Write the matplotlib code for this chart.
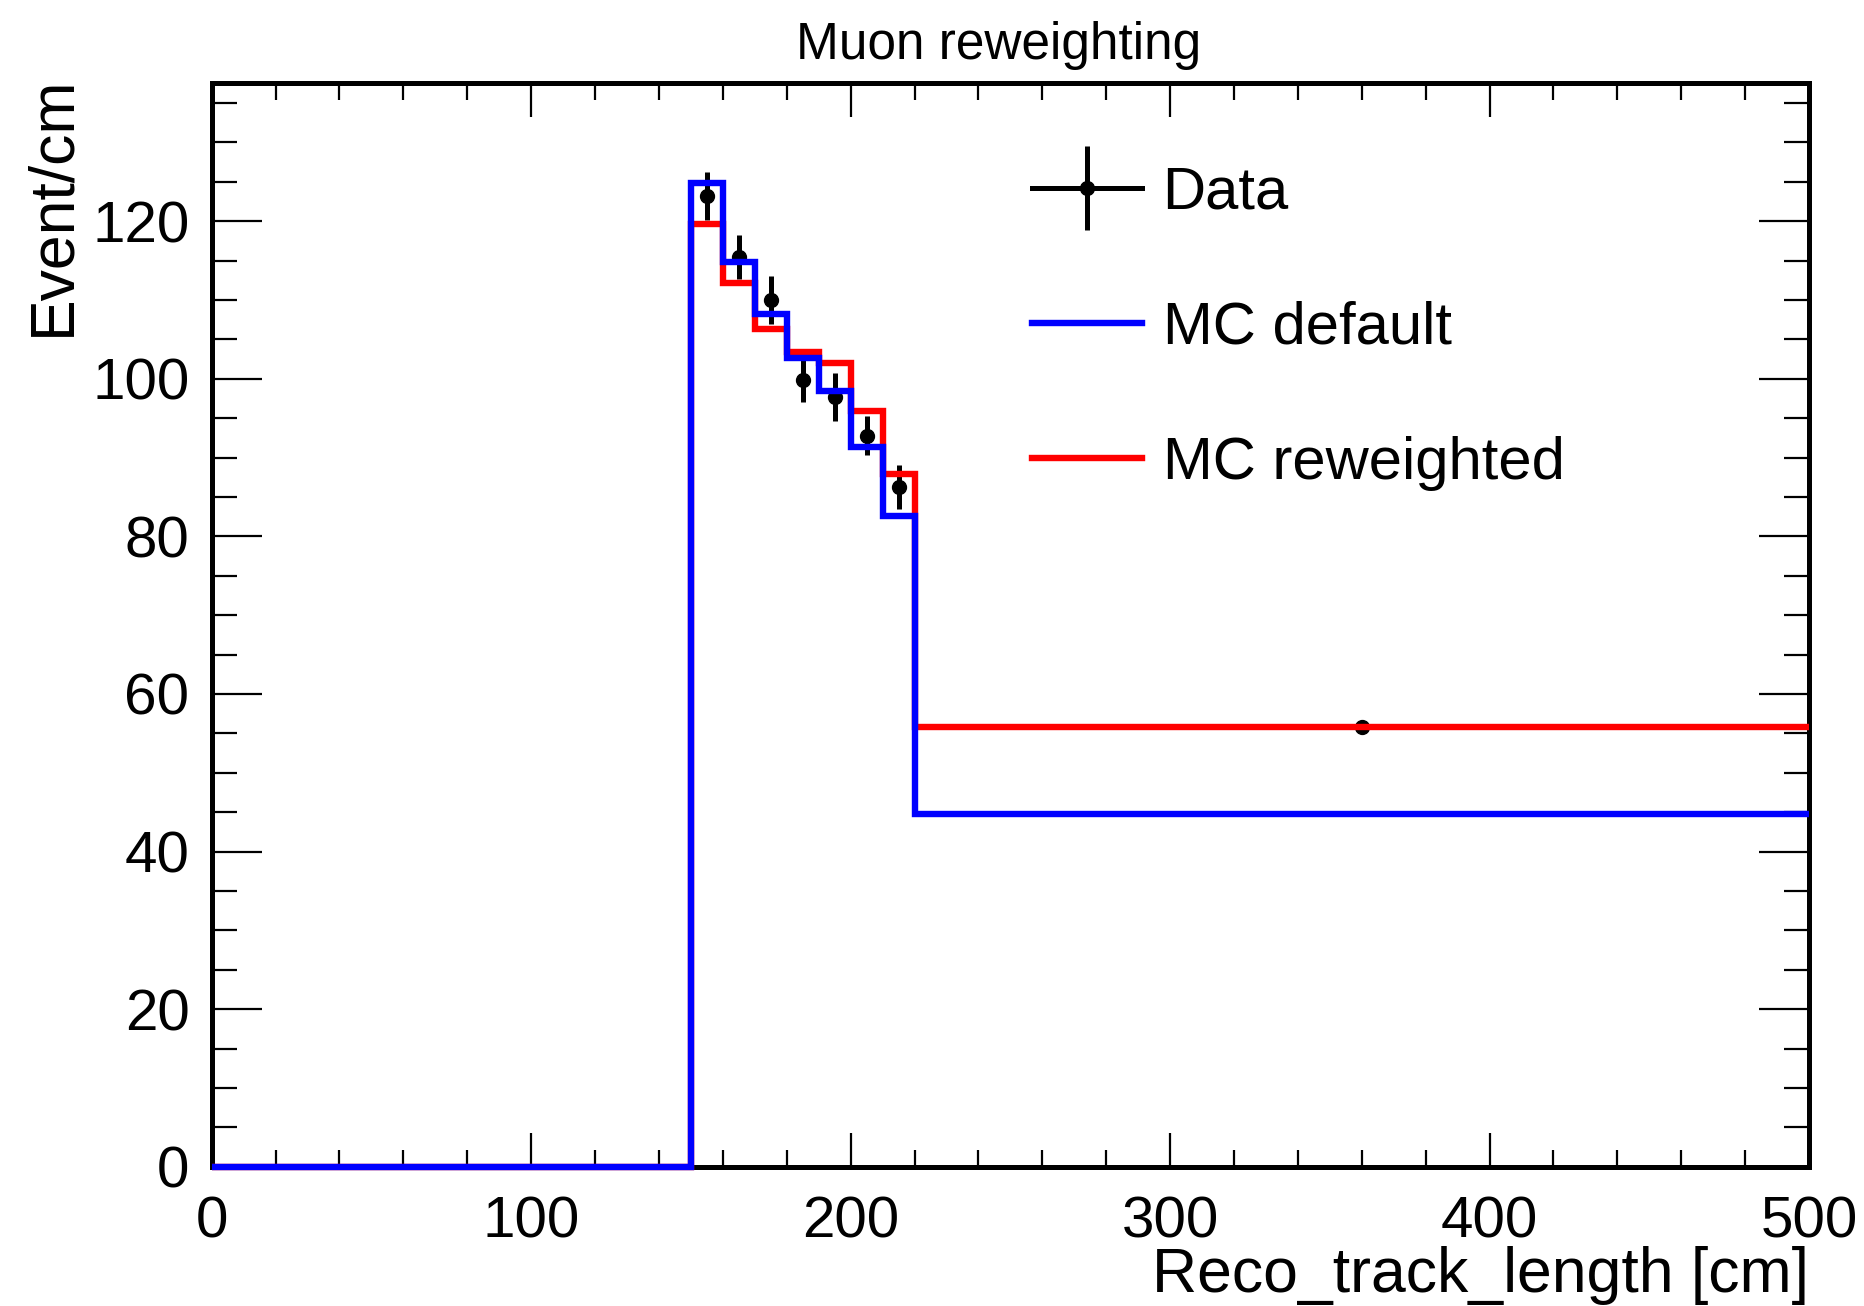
import numpy as np
import matplotlib
matplotlib.use("Agg")
import matplotlib.pyplot as plt
from matplotlib.lines import Line2D
from matplotlib.ticker import MultipleLocator

plt.rcParams['font.family'] = ['Liberation Sans', 'DejaVu Sans']

# bin edges [cm] and contents [Event/cm]
edges = [0, 150, 160, 170, 180, 190, 200, 210, 220, 500]
mc_default = [0, 124.9, 114.8, 108.2, 102.7, 98.5, 91.4, 82.6, 44.8]
mc_reweighted = [0, 119.7, 112.2, 106.3, 103.4, 102.0, 95.9, 87.9, 55.8]

# data points (bin centres), values and errors
data_x = [155, 165, 175, 185, 195, 205, 215, 360]
data_y = [123.2, 115.5, 110.0, 99.8, 97.7, 92.8, 86.3, 55.8]
data_err = [3.0, 2.8, 3.1, 2.8, 3.0, 2.5, 2.8, 0.45]

fig = plt.figure(figsize=(18.65, 13.06), dpi=100)
ax = fig.add_axes([0.1135, 0.1066, 0.8565, 0.8296])

# data first, histograms drawn on top (ROOT order)
ax.errorbar(data_x, data_y, yerr=data_err, fmt='o', color='black',
            ms=10, elinewidth=3.6, capsize=0, zorder=2)
ax.stairs(mc_reweighted, edges, baseline=None, color='red', lw=4.6,
          zorder=3, clip_on=False)
ax.stairs(mc_default, edges, baseline=None, color='blue', lw=4.6,
          zorder=4, clip_on=False)

ax.set_xlim(0, 500)
ax.set_ylim(0, 137.5)
ax.xaxis.set_major_locator(MultipleLocator(100))
ax.xaxis.set_minor_locator(MultipleLocator(20))
ax.yaxis.set_major_locator(MultipleLocator(20))
ax.yaxis.set_minor_locator(MultipleLocator(5))

ax.tick_params(which='both', direction='in', top=True, right=True,
               width=1.6, labelsize=42)
ax.tick_params(axis='x', which='major', length=24.5, pad=21)
ax.tick_params(axis='x', which='minor', length=12)
ax.tick_params(axis='y', which='major', length=36, pad=16)
ax.tick_params(axis='y', which='minor', length=18)
for s in ax.spines.values():
    s.set_linewidth(3.6)

# legend
data_handle = (Line2D([], [], color='black', lw=3.6),
               Line2D([], [], color='black', marker='|', ms=60, mew=3.6, ls='none'),
               Line2D([], [], color='black', marker='o', ms=10, ls='none'))
handles = [data_handle,
           Line2D([], [], color='blue', lw=4.6),
           Line2D([], [], color='red', lw=4.6)]
labels = ['Data', 'MC default', 'MC reweighted']
ax.legend(handles, labels, loc='upper left', bbox_to_anchor=(0.5134, 0.924),
          frameon=False, fontsize=43, handlelength=1.85, handletextpad=0.34,
          labelspacing=1.34, borderaxespad=0, borderpad=0)

fig.text(0.5357, 0.955, 'Muon reweighting', ha='center', va='baseline', fontsize=37)
fig.text(0.037, 0.942, 'Event/cm', rotation=90, rotation_mode='anchor',
         ha='right', va='baseline', fontsize=45)
fig.text(0.970, 0.0105, 'Reco_track_length [cm]', ha='right', va='baseline', fontsize=45)

fig.savefig('out.png', dpi=100, facecolor='white')
